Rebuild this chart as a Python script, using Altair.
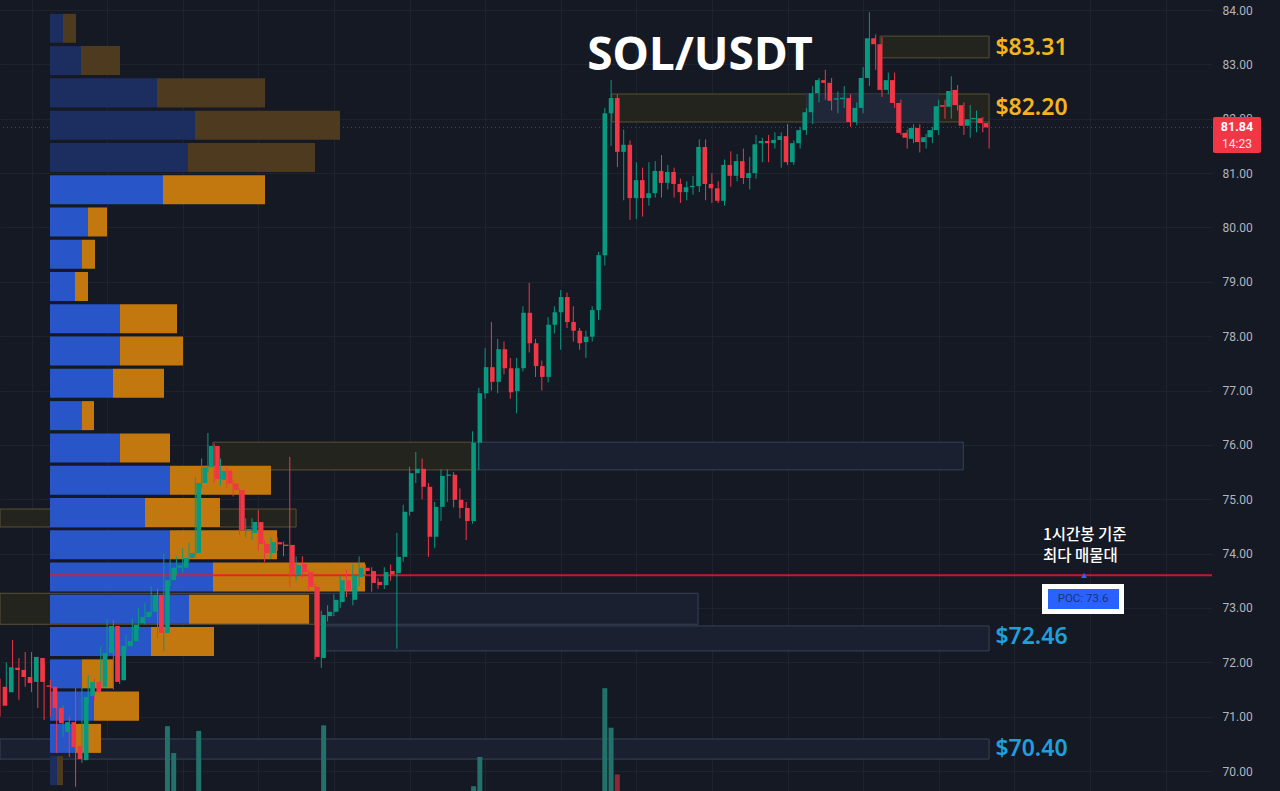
import altair as alt
import pandas as pd

# ---------------- data ----------------
opens = [71.55, 71.45, 71.90, 71.86, 71.73, 71.64, 72.08, 71.56, 71.55, 71.16,
         70.72, 70.90, 70.46, 70.20, 71.38, 71.64, 71.55, 72.17, 72.67, 71.67,
         72.30, 72.39, 72.72, 72.83, 72.93, 73.24, 72.54, 73.51, 73.74, 73.74,
         73.92, 74.01, 75.30, 75.59, 75.98, 75.36, 75.53, 75.29, 75.17, 74.43,
         74.38, 74.58, 74.18, 74.01, 74.21, 74.15, 74.16, 73.61, 73.81, 73.66,
         73.39, 72.08, 72.85, 72.93, 73.11, 73.51, 73.15, 73.57, 73.74, 73.68,
         73.48, 73.42, 73.68, 73.64, 73.94, 74.77, 75.48, 75.56, 75.23, 74.31,
         74.86, 75.43, 75.45, 74.99, 74.84, 74.60, 76.04, 76.95, 77.43, 77.16,
         77.76, 77.41, 76.99, 77.41, 78.43, 77.87, 77.45, 77.25, 78.21, 78.44,
         78.72, 78.26, 78.10, 77.89, 77.99, 78.48, 79.49, 82.10, 82.38, 81.39,
         81.52, 80.54, 80.87, 80.54, 80.63, 81.04, 80.82, 81.02, 80.80, 80.65,
         80.74, 80.76, 81.48, 80.80, 80.72, 80.49, 81.15, 80.95, 81.22, 80.91,
         81.00, 81.55, 81.59, 81.55, 81.61, 81.68, 81.20, 81.55, 81.79, 82.12,
         82.47, 82.71, 82.66, 82.35, 82.36, 82.38, 81.94, 82.20, 82.75, 83.48,
         83.37, 82.53, 82.71, 82.29, 81.74, 81.63, 81.83, 81.57, 81.66, 81.79,
         82.25, 82.22, 82.53, 82.25, 81.87, 81.99, 82.01, 81.92]
closes = [71.20, 71.91, 71.86, 71.73, 71.62, 72.10, 71.64, 71.55, 71.16, 70.88,
          70.90, 70.44, 70.22, 71.36, 71.64, 71.45, 72.17, 72.67, 71.64, 72.30,
          72.39, 72.69, 72.83, 72.93, 73.24, 72.54, 73.51, 73.74, 73.78, 73.92,
          74.01, 75.30, 75.59, 75.98, 75.37, 75.52, 75.29, 75.17, 74.43, 74.45,
          74.58, 74.18, 74.01, 74.21, 74.17, 74.14, 73.61, 73.79, 73.66, 73.39,
          72.10, 72.87, 72.93, 73.15, 73.51, 73.33, 73.59, 73.74, 73.68, 73.46,
          73.42, 73.66, 73.62, 73.94, 74.77, 75.48, 75.56, 75.23, 74.31, 74.86,
          75.43, 75.45, 74.99, 74.84, 74.60, 76.04, 76.95, 77.43, 77.16, 77.76,
          77.41, 76.97, 77.41, 78.43, 77.87, 77.45, 77.25, 78.21, 78.44, 78.72,
          78.26, 78.10, 77.87, 77.99, 78.48, 79.49, 82.10, 82.38, 81.39, 81.52,
          80.54, 80.87, 80.54, 80.63, 81.04, 80.82, 81.02, 80.80, 80.65, 80.74,
          80.76, 81.48, 80.80, 80.72, 80.49, 81.15, 80.95, 81.22, 80.91, 81.00,
          81.53, 81.59, 81.55, 81.61, 81.68, 81.20, 81.55, 81.79, 82.12, 82.47,
          82.71, 82.66, 82.33, 82.36, 82.38, 81.94, 82.20, 82.75, 83.48, 83.37,
          82.53, 82.71, 82.29, 81.74, 81.65, 81.83, 81.57, 81.66, 81.79, 82.23,
          82.22, 82.51, 82.25, 81.87, 81.99, 81.99, 81.92, 81.84]
highs = [71.70, 72.00, 72.41, 72.08, 72.19, 72.19, 72.10, 71.99, 71.68, 71.31,
         71.21, 71.00, 71.53, 71.53, 71.77, 71.70, 72.30, 72.80, 72.78, 72.40,
         72.50, 72.80, 73.00, 73.10, 73.40, 73.35, 74.00, 73.90, 73.95, 74.10,
         74.20, 75.40, 75.75, 76.22, 76.02, 75.75, 75.60, 75.35, 75.20, 74.65,
         74.65, 74.80, 74.25, 74.30, 74.30, 74.22, 75.78, 73.95, 73.95, 73.70,
         73.45, 72.95, 73.05, 73.25, 73.60, 73.70, 73.80, 73.95, 73.80, 73.75,
         73.55, 73.75, 73.80, 74.38, 74.90, 75.60, 75.87, 75.75, 75.30, 74.95,
         75.55, 75.55, 75.50, 75.20, 74.95, 76.25, 77.05, 77.78, 78.26, 77.95,
         77.90, 77.60, 77.60, 78.55, 78.98, 77.95, 77.55, 78.35, 78.55, 78.85,
         78.80, 78.55, 78.15, 78.10, 78.55, 79.55, 82.20, 82.71, 82.45, 81.80,
         81.60, 81.20, 81.10, 81.20, 81.22, 81.33, 81.15, 81.10, 80.90, 80.85,
         80.95, 81.62, 81.62, 81.00, 80.85, 81.25, 81.40, 81.35, 81.45, 81.30,
         81.70, 81.65, 81.70, 81.75, 81.75, 81.90, 81.60, 81.85, 82.20, 82.60,
         82.75, 82.90, 82.75, 82.50, 82.60, 82.45, 82.30, 82.95, 83.96, 83.55,
         83.50, 82.85, 82.85, 82.35, 81.80, 81.90, 81.90, 81.72, 81.85, 82.35,
         82.35, 82.78, 82.62, 82.30, 82.25, 82.15, 82.03, 81.95]
lows = [71.00, 71.40, 71.62, 71.31, 71.55, 71.45, 71.16, 70.94, 71.00, 70.33,
        70.63, 70.26, 69.71, 70.15, 71.25, 71.30, 71.50, 72.10, 71.50, 71.60,
        72.20, 72.30, 72.60, 72.70, 72.85, 72.45, 72.20, 73.40, 73.60, 73.65,
        73.85, 73.95, 75.20, 75.50, 75.30, 75.25, 75.20, 75.05, 74.35, 74.30,
        74.25, 74.05, 73.85, 73.90, 74.05, 73.95, 73.39, 73.50, 73.55, 73.30,
        72.05, 71.90, 72.75, 72.85, 73.00, 73.20, 73.05, 73.40, 73.60, 73.30,
        73.35, 73.35, 73.50, 72.25, 73.85, 74.70, 75.30, 75.00, 73.94, 74.10,
        74.60, 74.95, 74.85, 74.65, 74.25, 74.55, 75.54, 76.85, 77.00, 76.95,
        77.30, 76.85, 76.58, 77.35, 77.70, 77.25, 77.00, 77.15, 78.05, 77.75,
        78.15, 77.90, 77.75, 77.60, 77.90, 78.30, 79.30, 81.50, 81.11, 80.50,
        80.14, 80.15, 80.20, 80.40, 80.55, 80.55, 80.70, 80.55, 80.45, 80.50,
        80.60, 80.65, 80.50, 80.45, 80.45, 80.40, 80.75, 80.85, 80.80, 80.70,
        80.90, 81.20, 81.20, 81.45, 81.10, 81.15, 81.15, 81.45, 81.70, 81.90,
        82.30, 82.35, 82.15, 82.10, 82.20, 81.85, 81.88, 82.10, 82.60, 82.90,
        82.40, 82.45, 82.20, 81.70, 81.45, 81.55, 81.38, 81.45, 81.55, 81.70,
        82.00, 82.00, 82.15, 81.70, 81.65, 81.75, 81.75, 81.45]

# volume bars that rise into view at the bottom of the chart
vol_index = [26, 27, 31, 51, 75, 76, 96, 97, 98]
vol_value = [82, 48, 76, 83, 6, 43, 130, 80, 21]

# volume profile rows, listed from the top row to the bottom row
profile_buy = [13, 31, 107, 145, 138, 113, 38, 32, 25, 70, 70, 63,
               32, 70, 120, 95, 120, 163, 139, 101, 32, 44, 26, 7]
profile_sell = [13, 39, 108, 145, 127, 102, 19, 13, 13, 57, 63, 51,
                12, 50, 101, 75, 107, 152, 120, 63, 31, 45, 25, 6]
profile_area = ["out"] * 5 + ["va"] * 18 + ["out"]

# supply / demand zones
zone_start = [139.7, 97.1, 128.0, 33.8, 75.0, 0.0, 0.0, 50.0, 51.1, 0.0]
zone_end = [157.0, 157.0, 149.0, 75.0, 152.9, 47.0, 50.0, 110.8, 157.0, 157.0]
zone_low = [83.12, 81.94, 81.94, 75.54, 75.54, 74.49, 72.70, 72.70, 72.21, 70.22]
zone_high = [83.52, 82.455, 82.455, 76.05, 76.05, 74.82, 73.27, 73.27, 72.67, 70.59]
zone_kind = ["olive", "olive", "soft", "olive", "blue", "olive", "olive", "blue", "blue", "blue"]

label_text = ["$83.31", "$82.20", "$72.46", "$70.40"]
label_price = [83.31, 82.20, 72.46, 70.40]
label_kind = ["resist", "resist", "support", "support"]

poc_price = 73.6
countdown = "14:23"
title_text = "SOL/USDT"
note_lines = ["1시간봉 기준", "최다 매물대"]

# ---------------- styling / scales ----------------
W, H = 1212, 791
BG = "#151924"
UP, DOWN = "#089981", "#f23645"
X_DOMAIN = [0, 192.38]
Y_DOMAIN = [69.633, 84.184]
PROFILE_X_DOMAIN = [-50, 1162]
VOL_DOMAIN = [0, 1000]

xs = alt.Scale(domain=X_DOMAIN, nice=False, zero=False)
ys = alt.Scale(domain=Y_DOMAIN, nice=False, zero=False)
pxs = alt.Scale(domain=PROFILE_X_DOMAIN, nice=False, zero=False)
vys = alt.Scale(domain=VOL_DOMAIN, nice=False, zero=False)

# ---------------- tables ----------------
n = len(closes)
rows = []
for i in range(n):
    o, c = opens[i], closes[i]
    bot, top = min(o, c), max(o, c)
    if top - bot < 0.025:
        top = bot + 0.025
    rows.append(dict(i=i, o=o, c=c, h=highs[i], l=lows[i], bot=bot, top=top,
                     dir="up" if c >= o else "down"))
cdf = pd.DataFrame(rows)

p_low, p_high = min(lows), max(highs)
nrows = len(profile_buy)
step = (p_high - p_low) / nrows
prow = []
for j in range(nrows):
    k = nrows - 1 - j
    lo = p_low + k * step + 0.03
    hi = p_low + (k + 1) * step - 0.03
    b, s, a = profile_buy[j], profile_sell[j], profile_area[j]
    prow.append(dict(x0=0, x1=b, y0=lo, y1=hi, cls=a + "-buy"))
    prow.append(dict(x0=b, x1=b + s, y0=lo, y1=hi, cls=a + "-sell"))
pdf = pd.DataFrame(prow)

zdf = pd.DataFrame(dict(s=zone_start, e=zone_end, lo=zone_low, hi=zone_high, kind=zone_kind))
ldf = pd.DataFrame(dict(label=label_text, price=label_price, kind=label_kind, x=[n] * len(label_text)))
vdf = pd.DataFrame(dict(i=vol_index, v=vol_value,
                        dir=[cdf.loc[k, "dir"] for k in vol_index]))
pocdf = pd.DataFrame(dict(p=[poc_price], x0=[0], x1=[PROFILE_X_DOMAIN[1]],
                          label=[f"POC: {poc_price}"]))
lastdf = pd.DataFrame(dict(p=[closes[-1]], label=[f"{closes[-1]:.2f}"], cd=[countdown]))

# ---------------- layers ----------------
grid_x = list(range(5, 192, 12))
x_axis = alt.Axis(values=grid_x, labels=False, ticks=False, domain=False, grid=True,
                  gridColor="#1f2330", gridWidth=1, title=None)
y_axis = alt.Axis(orient="right", values=list(range(70, 85)), format=".2f", labels=True,
                  ticks=False, domain=False, grid=True, gridColor="#1f2330",
                  labelColor="#b2b5be", labelFontSize=12, labelFont="Roboto",
                  labelPadding=10, title=None)

zone_fill = alt.Scale(domain=["olive", "blue", "soft"], range=["#24241f", "#1a2030", "#1f2739"])
zone_stroke = alt.Scale(domain=["olive", "blue", "soft"], range=["#5a5034", "#374257", "#2a3246"])

zones = alt.Chart(zdf).mark_rect(strokeWidth=1).encode(
    x=alt.X("s:Q", scale=xs, axis=x_axis), x2="e:Q",
    y=alt.Y("lo:Q", scale=ys, axis=y_axis), y2="hi:Q",
    fill=alt.Fill("kind:N", scale=zone_fill, legend=None),
    stroke=alt.Stroke("kind:N", scale=zone_stroke, legend=None),
)

last_line = alt.Chart(lastdf).mark_rule(color=DOWN, strokeDash=[1, 3], opacity=0.55, strokeWidth=1).encode(
    y=alt.Y("p:Q", scale=ys, axis=None)
)

prof_col = alt.Scale(domain=["va-buy", "va-sell", "out-buy", "out-sell"],
                     range=["#2855c8", "#c3780f", "#1c2d5f", "#4e3a1e"])
profile = alt.Chart(pdf).mark_bar().encode(
    x=alt.X("x0:Q", scale=pxs, axis=None), x2="x1:Q",
    y=alt.Y("y0:Q", scale=ys, axis=None), y2="y1:Q",
    color=alt.Color("cls:N", scale=prof_col, legend=None),
)

poc_line = alt.Chart(pocdf).mark_rule(color="#e8172d", strokeWidth=2, opacity=0.85).encode(
    x=alt.X("x0:Q", scale=pxs, axis=None), x2="x1:Q",
    y=alt.Y("p:Q", scale=ys, axis=None),
)

vol_col = alt.Scale(domain=["up", "down"], range=["#22716a", "#8c2837"])
volume = alt.Chart(vdf).mark_bar(size=5).encode(
    x=alt.X("i:Q", scale=xs, axis=None),
    y=alt.Y("v:Q", scale=vys, axis=None),
    color=alt.Color("dir:N", scale=vol_col, legend=None),
)

cand_col = alt.Scale(domain=["up", "down"], range=[UP, DOWN])
wicks = alt.Chart(cdf).mark_rule(strokeWidth=1).encode(
    x=alt.X("i:Q", scale=xs, axis=None),
    y=alt.Y("l:Q", scale=ys, axis=None), y2="h:Q",
    color=alt.Color("dir:N", scale=cand_col, legend=None),
)
bodies = alt.Chart(cdf).mark_bar(size=4.6).encode(
    x=alt.X("i:Q", scale=xs, axis=None),
    y=alt.Y("bot:Q", scale=ys, axis=None), y2="top:Q",
    color=alt.Color("dir:N", scale=cand_col, legend=None),
)

lab_col = alt.Scale(domain=["resist", "support"], range=["#f4b41e", "#1f9fdc"])
labels = alt.Chart(ldf).mark_text(align="left", baseline="middle", fontSize=23,
                                  fontWeight=600, font="Noto Sans").encode(
    x=alt.X("x:Q", scale=xs, axis=None),
    y=alt.Y("price:Q", scale=ys, axis=None),
    text="label:N",
    color=alt.Color("kind:N", scale=lab_col, legend=None),
)

title = alt.Chart(pd.DataFrame(dict(t=[title_text]))).mark_text(
    fontSize=46, fontWeight="bold", font="Noto Sans", color="white",
    align="center", baseline="alphabetic").encode(
    x=alt.value(700), y=alt.value(70), text="t:N")

note1 = alt.Chart(pd.DataFrame(dict(t=[note_lines[0]]))).mark_text(
    fontSize=15.5, fontWeight=500, font="Noto Sans CJK KR", color="white",
    align="left", baseline="middle").encode(x=alt.value(1043), y=alt.value(535), text="t:N")
note2 = alt.Chart(pd.DataFrame(dict(t=[note_lines[1]]))).mark_text(
    fontSize=15.5, fontWeight=500, font="Noto Sans CJK KR", color="white",
    align="left", baseline="middle").encode(x=alt.value(1043), y=alt.value(556), text="t:N")

poc_box_outer = alt.Chart(pocdf).mark_rect(color="white").encode(
    x=alt.value(1042), x2=alt.value(1124), y=alt.value(584), y2=alt.value(614))
poc_box_inner = alt.Chart(pocdf).mark_rect(color="#2962ff").encode(
    x=alt.value(1048), x2=alt.value(1119), y=alt.value(589), y2=alt.value(609))
poc_text = alt.Chart(pocdf).mark_text(fontSize=11.5, font="Roboto", color="#1f3274",
                                      align="center", baseline="middle").encode(
    x=alt.value(1083), y=alt.value(599), text="label:N")
poc_marker = alt.Chart(pocdf).mark_point(shape="triangle-up", filled=True, size=35,
                                         color="#2962ff", opacity=1).encode(
    x=alt.value(1084), y=alt.Y("p:Q", scale=ys, axis=None))

tag = alt.Chart(lastdf).transform_calculate(
    top="datum.p + 0.19", bot="datum.p - 0.47"
).mark_rect(color="#f23645", cornerRadius=2).encode(
    x=alt.value(1213), x2=alt.value(1261),
    y=alt.Y("top:Q", scale=ys, axis=None), y2="bot:Q")
tag_price = alt.Chart(lastdf).mark_text(fontSize=12.5, fontWeight="bold", font="Roboto",
                                        color="white", align="center", baseline="middle").encode(
    x=alt.value(1237), y=alt.Y("p:Q", scale=ys, axis=None), text="label:N")
tag_time = alt.Chart(lastdf).mark_text(fontSize=12, font="Roboto", color="#ffe3e6",
                                       align="center", baseline="middle", dy=17).encode(
    x=alt.value(1237), y=alt.Y("p:Q", scale=ys, axis=None), text="cd:N")

chart = alt.layer(
    zones, last_line, profile, poc_line, volume, wicks, bodies, labels, title,
    note1, note2, poc_box_outer, poc_box_inner, poc_text, poc_marker,
    tag, tag_price, tag_time,
).resolve_scale(
    x="independent", y="independent", color="independent", fill="independent", stroke="independent"
).properties(
    width=W, height=H, background=BG,
    padding={"left": 0, "top": 0, "right": 68, "bottom": 0},
    autosize=alt.AutoSizeParams(type="none"),
).configure_view(stroke=None)

chart.save("out.html", embed_options={"renderer": "svg", "actions": False})
